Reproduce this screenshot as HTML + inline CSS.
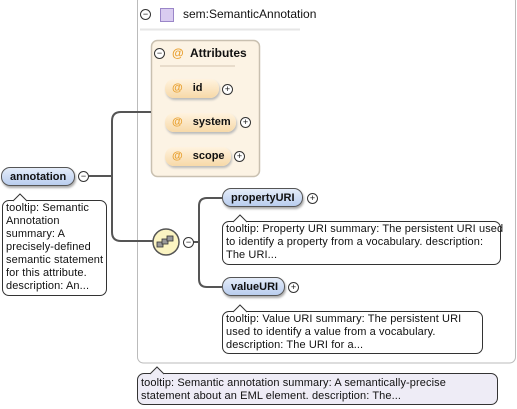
<!DOCTYPE html>
<html><head><style>
body{margin:0;width:517px;height:409px;background:#fff;position:relative;overflow:hidden;font-family:"Liberation Sans",sans-serif;font-size:11px;color:#111}
.a{position:absolute}
.pill{position:absolute;height:19px;border:1px solid #555;border-radius:9px;background:linear-gradient(#e4ecf9,#b9cdee);font-weight:bold;font-size:11px;line-height:19px;box-sizing:border-box;padding-left:8px;box-shadow:1px 2px 2px #aaa}
.ap{position:absolute;height:19px;border-radius:9px;background:linear-gradient(#fff3df,#f7d9a8);font-weight:bold;font-size:11px;line-height:19px;box-sizing:border-box;padding-left:7px;box-shadow:1px 2px 2px #bbb}
.ap b{color:#e8a030;font-weight:bold;margin-right:10px}
.c{position:absolute;width:9px;height:9px;border:1px solid #333;border-radius:50%;background:#fff;font-size:9px;line-height:9px;text-align:center}
.tt{position:absolute;border:1px solid #333;border-radius:7px;background:#fff;font-size:11px;line-height:13px;padding:1px 3px;box-sizing:border-box;white-space:nowrap;letter-spacing:0.1px}
</style></head><body>
<svg class="a" style="left:0;top:0" width="517" height="409">
<rect x="137.5" y="-5" width="378" height="368" rx="6" fill="#fff" stroke="#bbb"/>
<line x1="140" y1="29.5" x2="300" y2="29.5" stroke="#e6e6e6" stroke-width="2"/>
<rect x="151.5" y="40.5" width="108" height="136" rx="6" fill="#fcf3e4" stroke="#c9c0b0" stroke-width="1.5"/>
<line x1="160" y1="66" x2="235" y2="66" stroke="#e8dccb" stroke-width="2"/>
<g fill="none" stroke="#555" stroke-width="2">
<path d="M89 176 H112"/>
<path d="M151 112 H121 Q112 112 112 121 V232 Q112 241 121 241 H153"/>
<path d="M193 242 H199"/>
<path d="M222 198 H207 Q199 198 199 206 V279 Q199 287 207 287 H222"/>
</g>
<circle cx="166" cy="242" r="13" fill="#fbf4c2" stroke="#555" stroke-width="1.5"/>
<g fill="#999" stroke="#333" stroke-width="0.8">
<rect x="157" y="242" width="6" height="5"/><rect x="162" y="239" width="6" height="5"/><rect x="167" y="236" width="6" height="5"/>
</g>
<rect x="160.5" y="8.5" width="13" height="13" fill="#d9ccf0" stroke="#9a86c8"/>
</svg>
<div class="c" style="left:140px;top:9px">−</div>
<div class="a" style="left:183px;top:7px;font-size:12px">sem:SemanticAnnotation</div>
<div class="c" style="left:154px;top:48px">−</div>
<div class="a" style="left:172px;top:46px;color:#e8a030;font-weight:bold;font-size:12px">@</div>
<div class="a" style="left:190px;top:46px;font-weight:bold;font-size:12px">Attributes</div>
<div class="ap" style="left:165px;top:79px;width:54px"><b>@</b>id</div><div class="c" style="left:222px;top:84px">+</div>
<div class="ap" style="left:165px;top:113px;width:71px"><b>@</b>system</div><div class="c" style="left:240px;top:117px">+</div>
<div class="ap" style="left:165px;top:147px;width:66px"><b>@</b>scope</div><div class="c" style="left:234px;top:151px">+</div>
<div class="pill" style="left:1px;top:167px;width:74px">annotation</div><div class="c" style="left:78px;top:171px">−</div>
<div class="tt" style="left:2px;top:200px;width:105px;height:96px">tooltip: Semantic<br>Annotation<br>summary: A<br>precisely-defined<br>semantic statement<br>for this attribute.<br>description: An...</div>
<div class="c" style="left:183px;top:237px">−</div>
<div class="pill" style="left:222px;top:188px;width:81px">propertyURI</div><div class="c" style="left:307px;top:193px">+</div>
<div class="tt" style="left:222px;top:221px;width:279px;height:44px">tooltip: Property URI summary: The persistent URI used<br>to identify a property from a vocabulary. description:<br>The URI...</div>
<div class="pill" style="left:222px;top:277px;width:63px">valueURI</div><div class="c" style="left:288px;top:282px">+</div>
<div class="tt" style="left:222px;top:311px;width:261px;height:43px">tooltip: Value URI summary: The persistent URI<br>used to identify a value from a vocabulary.<br>description: The URI for a...</div>
<div class="tt" style="left:137px;top:373px;width:361px;height:32px;background:#eeecf6;padding-top:3px">tooltip: Semantic annotation summary: A semantically-precise<br>statement about an EML element. description: The...</div>
<svg class="a" style="left:0;top:0" width="517" height="409">
<path d="M13 201 L20 194 L27 201" fill="#fff" stroke="#333"/>
<path d="M233 222 L240 215 L247 222" fill="#fff" stroke="#333"/>
<path d="M233 312 L240 305 L247 312" fill="#fff" stroke="#333"/>
<path d="M150 374 L157 367 L164 374" fill="#eeecf6" stroke="#333"/>
</svg>
</body></html>
